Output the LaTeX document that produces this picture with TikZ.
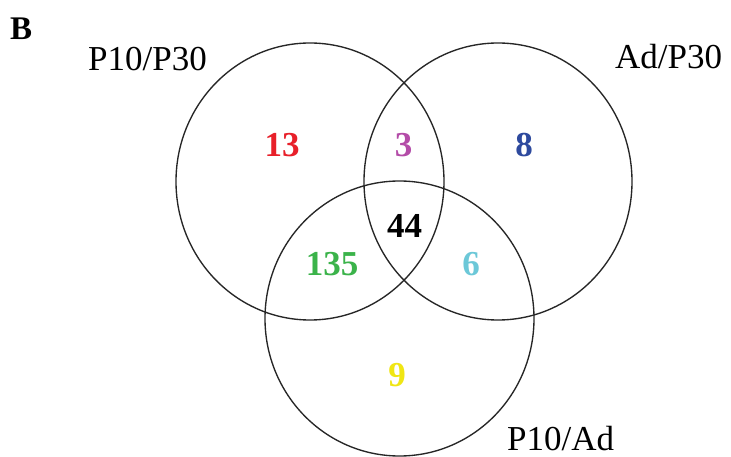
\documentclass[tikz,border=0pt]{standalone}
\usepackage{fontspec}
\setmainfont{Liberation Serif}
\definecolor{cRed}{HTML}{E8202A}
\definecolor{cMag}{HTML}{B44CA8}
\definecolor{cBlue}{HTML}{2E4A9E}
\definecolor{cGreen}{HTML}{3BB34A}
\definecolor{cCyan}{HTML}{6CC8D8}
\definecolor{cYellow}{HTML}{F0E614}
\begin{document}
\begin{tikzpicture}[x=1pt,y=1pt,
  vset/.style={draw=black!85, line width=1.35pt},
  setlabel/.style={inner sep=0pt, anchor=base west, font=\fontsize{35}{40}\selectfont},
  count/.style={inner sep=0pt, anchor=base, font=\fontsize{35}{40}\selectfont\bfseries}]
\useasboundingbox (0,0) rectangle (731,-457);
\fill[white] (0,0) rectangle (731,-457);
% sets
\draw[vset] (310,-181.5) ellipse [x radius=134, y radius=138.5];
\draw[vset] (498,-181.5) ellipse [x radius=134, y radius=138.5];
\draw[vset] (399.5,-318.5) ellipse [x radius=134.5, y radius=137.5];
% panel letter
\node[inner sep=0pt, anchor=base west, font=\fontsize{33}{36}\selectfont\bfseries] (panel) at (10,-40) {B};
% set labels
\node[setlabel] (lab1) at (88,-71) {P10/P30};
\node[setlabel] (lab2) at (615,-69) {Ad/P30};
\node[setlabel] (lab3) at (507,-450) {P10/Ad};
% counts
\node[count, text=cRed] (n13) at (282,-157) {13};
\node[count, text=cMag] (n3) at (403.5,-157) {3};
\node[count, text=cBlue] (n8) at (524,-157) {8};
\node[count, text=black] (n44) at (404.5,-238) {44};
\node[count, text=cGreen] (n135) at (332,-275) {135};
\node[count, text=cCyan] (n6) at (471,-275) {6};
\node[count, text=cYellow] (n9) at (397,-386) {9};
\end{tikzpicture}
\end{document}
